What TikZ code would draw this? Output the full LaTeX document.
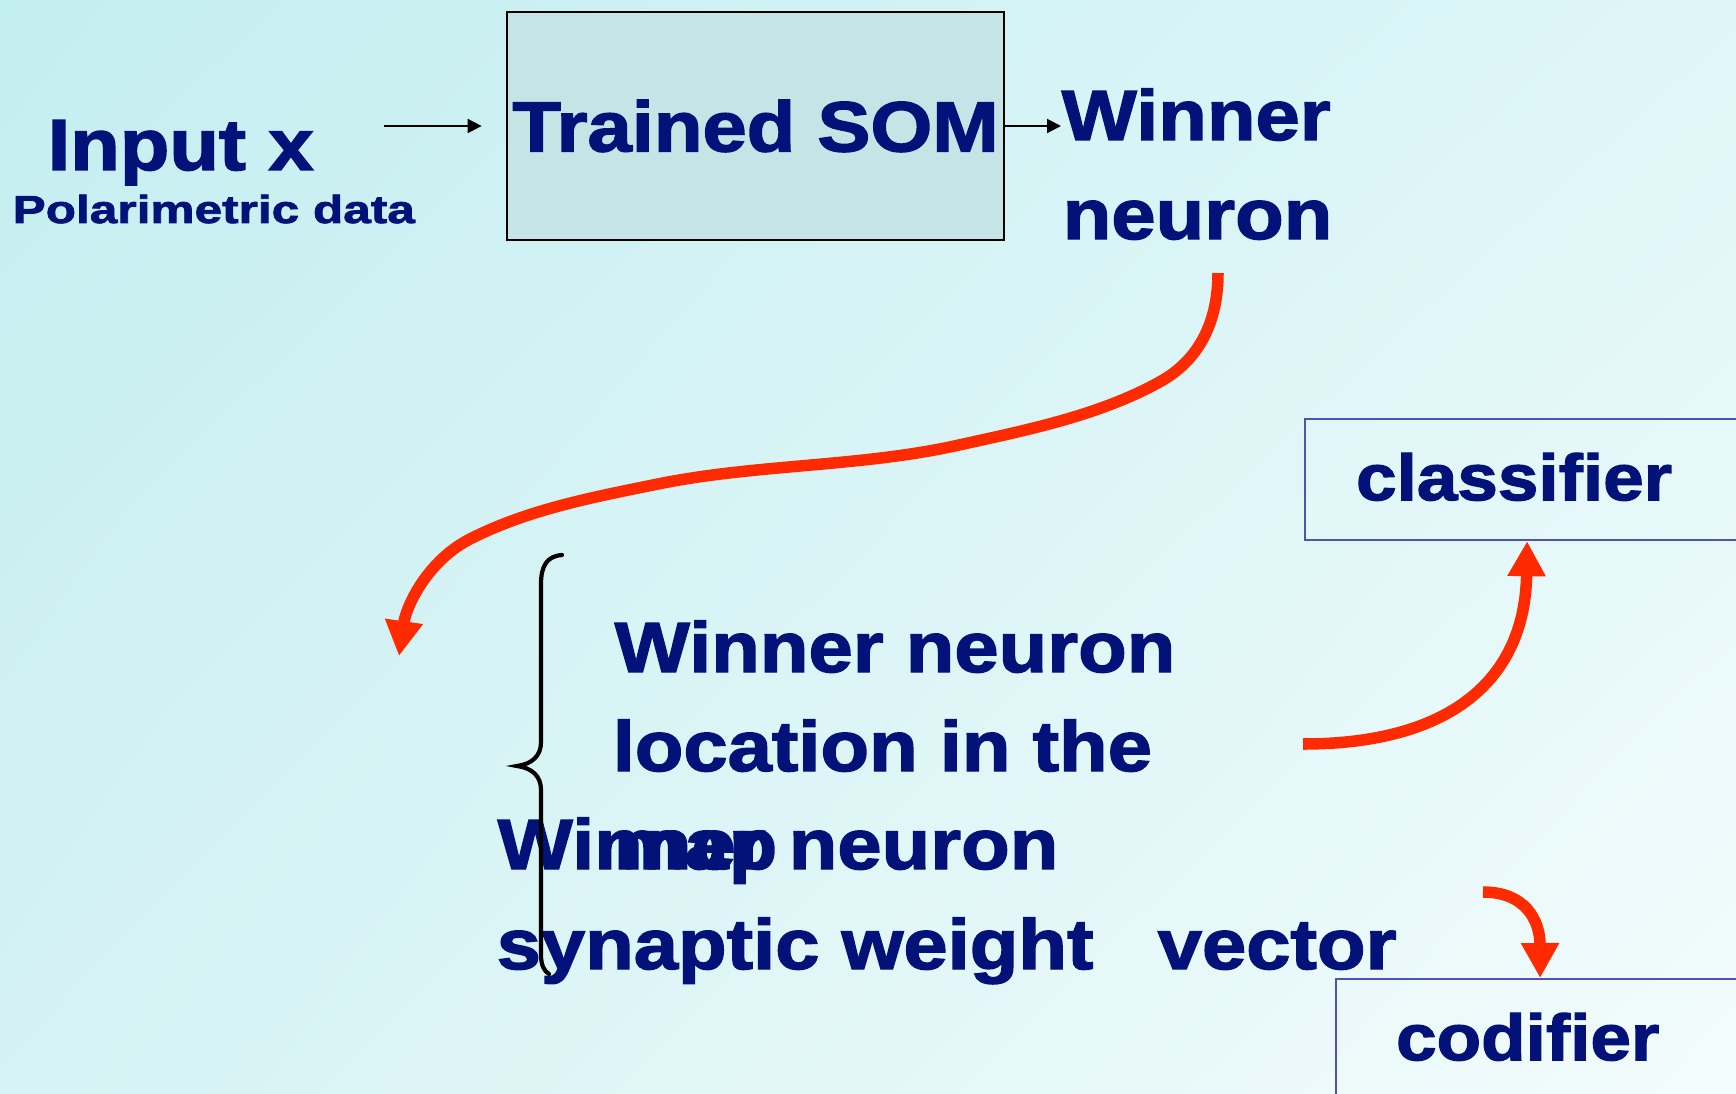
\documentclass[tikz,border=0pt]{standalone}
\usepackage{fontspec}
\setmainfont{Liberation Sans}[FakeStretch=1.12, BoldFeatures={FakeBold=2}]
\newfontfamily\widefont{Liberation Sans}[FakeStretch=1.27, BoldFeatures={FakeBold=2}]
\usetikzlibrary{arrows.meta,shadings}

\definecolor{navy}{RGB}{2,18,120}
\definecolor{arrowred}{RGB}{255,42,0}
\definecolor{somfill}{RGB}{197,228,230}
\definecolor{boxblue}{RGB}{75,85,175}
\definecolor{bgTL}{RGB}{195,238,240}
\definecolor{bgTR}{RGB}{223,246,248}
\definecolor{bgBL}{RGB}{213,242,244}
\definecolor{bgBR}{RGB}{243,252,252}

\tikzset{
  lbl/.style={anchor=base west, inner sep=0pt, text=navy,
    font=\bfseries\fontsize{20.2}{24}\selectfont},
  outbox/.style={draw=boxblue, line width=0.6pt, anchor=north west,
    align=left, text width=4cm, text=navy,
    font=\bfseries\fontsize{18.5}{22}\selectfont},
  thinarrow/.style={draw=black, line width=0.02cm,
    -{Triangle[length=0.14cm,width=0.14cm]}},
  redarrow/.style={draw=arrowred, line width=0.115cm,
    -{Triangle[length=0.35cm,width=0.36cm]}},
  bracestroke/.style={draw=black, line width=0.042cm, line cap=round}
}

\begin{document}
\begin{tikzpicture}[x=0.01cm, y=-0.01cm]
\useasboundingbox (0,0) rectangle (1736,1094);
\clip (0,0) rectangle (1736,1094);
\shade[upper left=bgTL, upper right=bgTR, lower left=bgBL, lower right=bgBR]
  (0,0) rectangle (1736,1094);

% input side
\node[lbl, font=\bfseries\fontsize{20.6}{24}\selectfont] (inputx) at (47,170) {Input x};
\node[lbl, font=\widefont\bfseries\fontsize{11.1}{13}\selectfont] (polar) at (12,223) {Polarimetric data};

% trained map
\node[draw=black, line width=0.7pt, fill=somfill, minimum width=4.97cm,
      minimum height=2.28cm, inner sep=0pt, text=navy,
      font=\bfseries\fontsize{20.2}{24}\selectfont] (som) at (755.5,126) {Trained SOM};

% winner neuron label
\node[lbl] (wn1) at (1061,140) {Winner};
\node[lbl] (wn2) at (1062,239) {neuron};

\draw[thinarrow] ([xshift=-1.22cm]som.west) -- ([xshift=-0.24cm]som.west);
\draw[thinarrow] (som.east) -- (som.east -| wn1.west);

% outputs of the winner neuron
\node[lbl] (loc1) at (614,672) {Winner neuron};
\node[lbl] (loc2) at (612,771) {location in the};
\node[lbl] (loc3) at (613,869) {map};
\node[lbl] (syn1) at (497,869) {Winner neuron};
\node[lbl] (syn2) at (496,969) {synaptic weight~~\hspace{0.2cm}vector};

% brace grouping both outputs
\draw[bracestroke] (562,555) .. controls (547,556) and (541,566) .. (541,584)
  -- (541,742) .. controls (541,756) and (532,764) .. (517,766)
  .. controls (532,768) and (541,776) .. (541,790)
  -- (541,955) .. controls (541,965) and (544,971) .. (549,974);

% classifier and codifier blocks
\node[outbox, inner xsep=0.51cm, inner ysep=0.34cm, text height=0.47cm,
      text depth=0.06cm] (cls) at (1304,418) {classifier};
\node[outbox, inner xsep=0.60cm, inner ysep=0.35cm, text height=0.46cm,
      text depth=0.8cm] (cod) at (1335,978) {codifier};

% red connectors
\coordinate (winout) at (1218,273);
\coordinate (locin) at (399,656);
\coordinate (clsfrom) at (1303,744);
\coordinate (codfrom) at (1483,892);

\draw[redarrow] (winout)
  .. controls (1218,318) and (1202,357) .. (1163,380)
  .. controls (1102,415) and (1027,430) .. (959,445)
  .. controls (861,467) and (756,464) .. (658,484)
  .. controls (594,497) and (530,509) .. (472,538)
  .. controls (427,560) and (406,607) .. (locin);
\draw[redarrow] (clsfrom) .. controls (1450,744) and (1525,680)
  .. ([xshift=2.23cm]cls.south west);
\draw[redarrow] (codfrom) .. controls (1525,892) and (1540,920)
  .. ([xshift=2.05cm]cod.north west);
\end{tikzpicture}
\end{document}
